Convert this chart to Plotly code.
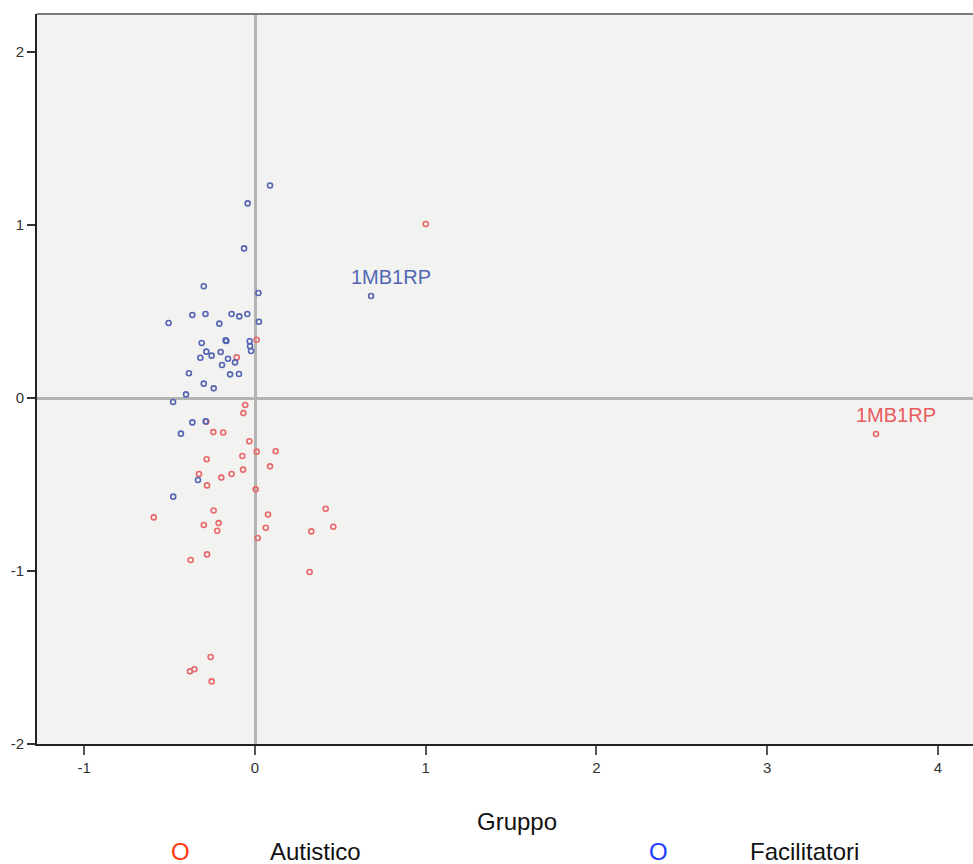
import plotly.graph_objects as go

# Data
facilitatori_x = [0.088, -0.043, -0.064, -0.30, 0.02, -0.367, -0.29, -0.506, -0.209, -0.137,
                  -0.092, -0.045, 0.023, -0.312, -0.172, -0.168, -0.031, -0.029, -0.023, -0.285,
                  -0.201, -0.254, -0.32, -0.158, -0.117, -0.193, -0.387, -0.146, -0.094, -0.30,
                  -0.242, -0.404, -0.48, -0.367, -0.289, -0.434, -0.334, -0.479, 0.68]
facilitatori_y = [1.229, 1.125, 0.865, 0.646, 0.607, 0.48, 0.486, 0.434, 0.43, 0.486,
                  0.472, 0.486, 0.441, 0.318, 0.333, 0.330, 0.328, 0.30, 0.272, 0.268,
                  0.266, 0.245, 0.233, 0.227, 0.206, 0.191, 0.143, 0.137, 0.139, 0.083,
                  0.056, 0.021, -0.023, -0.141, -0.135, -0.206, -0.474, -0.57, 0.59]

autistico_x = [1.0, 0.01, -0.107, -0.057, -0.068, -0.285, -0.244, -0.186, -0.033, 0.01,
               0.121, -0.283, -0.074, 0.088, -0.07, -0.328, -0.137, -0.197, -0.281, 0.004,
               0.414, -0.242, 0.076, -0.593, 0.459, -0.30, -0.213, -0.221, 0.063, 0.33,
               0.016, -0.281, -0.377, 0.32, -0.26, -0.355, -0.381, -0.254, 3.638]
autistico_y = [1.006, 0.337, 0.235, -0.04, -0.087, -0.137, -0.197, -0.199, -0.25, -0.31,
               -0.308, -0.354, -0.335, -0.395, -0.414, -0.439, -0.439, -0.46, -0.505, -0.528,
               -0.64, -0.65, -0.673, -0.69, -0.744, -0.734, -0.723, -0.767, -0.75, -0.771,
               -0.809, -0.904, -0.936, -1.006, -1.497, -1.568, -1.58, -1.638, -0.208]

labels = [("1MB1RP", 0.68, 0.59, "#5266b5"), ("1MB1RP", 3.638, -0.208, "#e85a5e")]

x_ticks = [-1, 0, 1, 2, 3, 4]
x_ticktext = ["-1", "0", "1", "2", "3", "4"]
y_ticks = [-2, -1, 0, 1, 2]
y_ticktext = ["-2", "-1", "0", "1", "2"]

blue = "#5465b3"
red = "#e8686a"
FONT = "Liberation Sans, Arial"
TICKFONT = "Liberation Sans Narrow, Arial Narrow, Liberation Sans"

fig = go.Figure()
fig.add_trace(go.Scatter(x=autistico_x, y=autistico_y, mode="markers", name="Autistico",
                         marker=dict(symbol="circle-open", size=5, color=red, line=dict(width=1.6, color=red))))
fig.add_trace(go.Scatter(x=facilitatori_x, y=facilitatori_y, mode="markers", name="Facilitatori",
                         marker=dict(symbol="circle-open", size=5, color=blue, line=dict(width=1.6, color=blue))))

for txt, lx, ly, col in labels:
    fig.add_annotation(x=lx, y=ly, text=txt, showarrow=False, xshift=20, yshift=19,
                       xanchor="center", yanchor="middle",
                       font=dict(family=FONT, size=20, color=col))

# top border
fig.add_shape(type="line", xref="paper", yref="paper", x0=0, x1=1, y0=1, y1=1,
              line=dict(color="#7a7a7a", width=2))

# legend as text
fig.add_annotation(xref="paper", yref="paper", x=(517 - 37) / 936, y=-(821 - 744) / 730,
                   xanchor="center", yanchor="middle",
                   text="Gruppo", showarrow=False, font=dict(family=FONT, size=24, color="#111"))
for txt, px, col in [("O", 180, "#ff3a12"), ("Autistico", 315, "#111"), ("O", 658, "#1e3cff"), ("Facilitatori", 804, "#111")]:
    fig.add_annotation(xref="paper", yref="paper", x=(px - 37) / 936, y=-(851 - 744) / 730,
                       xanchor="center", yanchor="middle",
                       text=txt, showarrow=False, font=dict(family=FONT, size=24, color=col))

fig.update_layout(
    width=973, height=864,
    margin=dict(l=37, r=0, t=14, b=120),
    paper_bgcolor="white", plot_bgcolor="#f2f2f1",
    showlegend=False,
    font=dict(family=FONT, size=13, color="#333"),
)
fig.update_xaxes(range=[-1.277, 4.206], tickvals=x_ticks, ticktext=x_ticktext, ticks="outside", ticklen=9,
                 tickcolor="#555", tickwidth=2,
                 showgrid=False, showline=True, linecolor="#222", linewidth=2,
                 zeroline=True, zerolinecolor="#b3b3b3", zerolinewidth=2.5,
                 tickfont=dict(family=TICKFONT, size=15, color="#333"))
fig.update_yaxes(range=[-2, 2.22], tickvals=y_ticks, ticktext=y_ticktext, ticks="outside", ticklen=8,
                 tickcolor="#333", tickwidth=2,
                 showgrid=False, showline=True, linecolor="#222", linewidth=2,
                 zeroline=True, zerolinecolor="#b3b3b3", zerolinewidth=2.5,
                 tickfont=dict(family=TICKFONT, size=15, color="#333"))

fig.write_html("out.html")
